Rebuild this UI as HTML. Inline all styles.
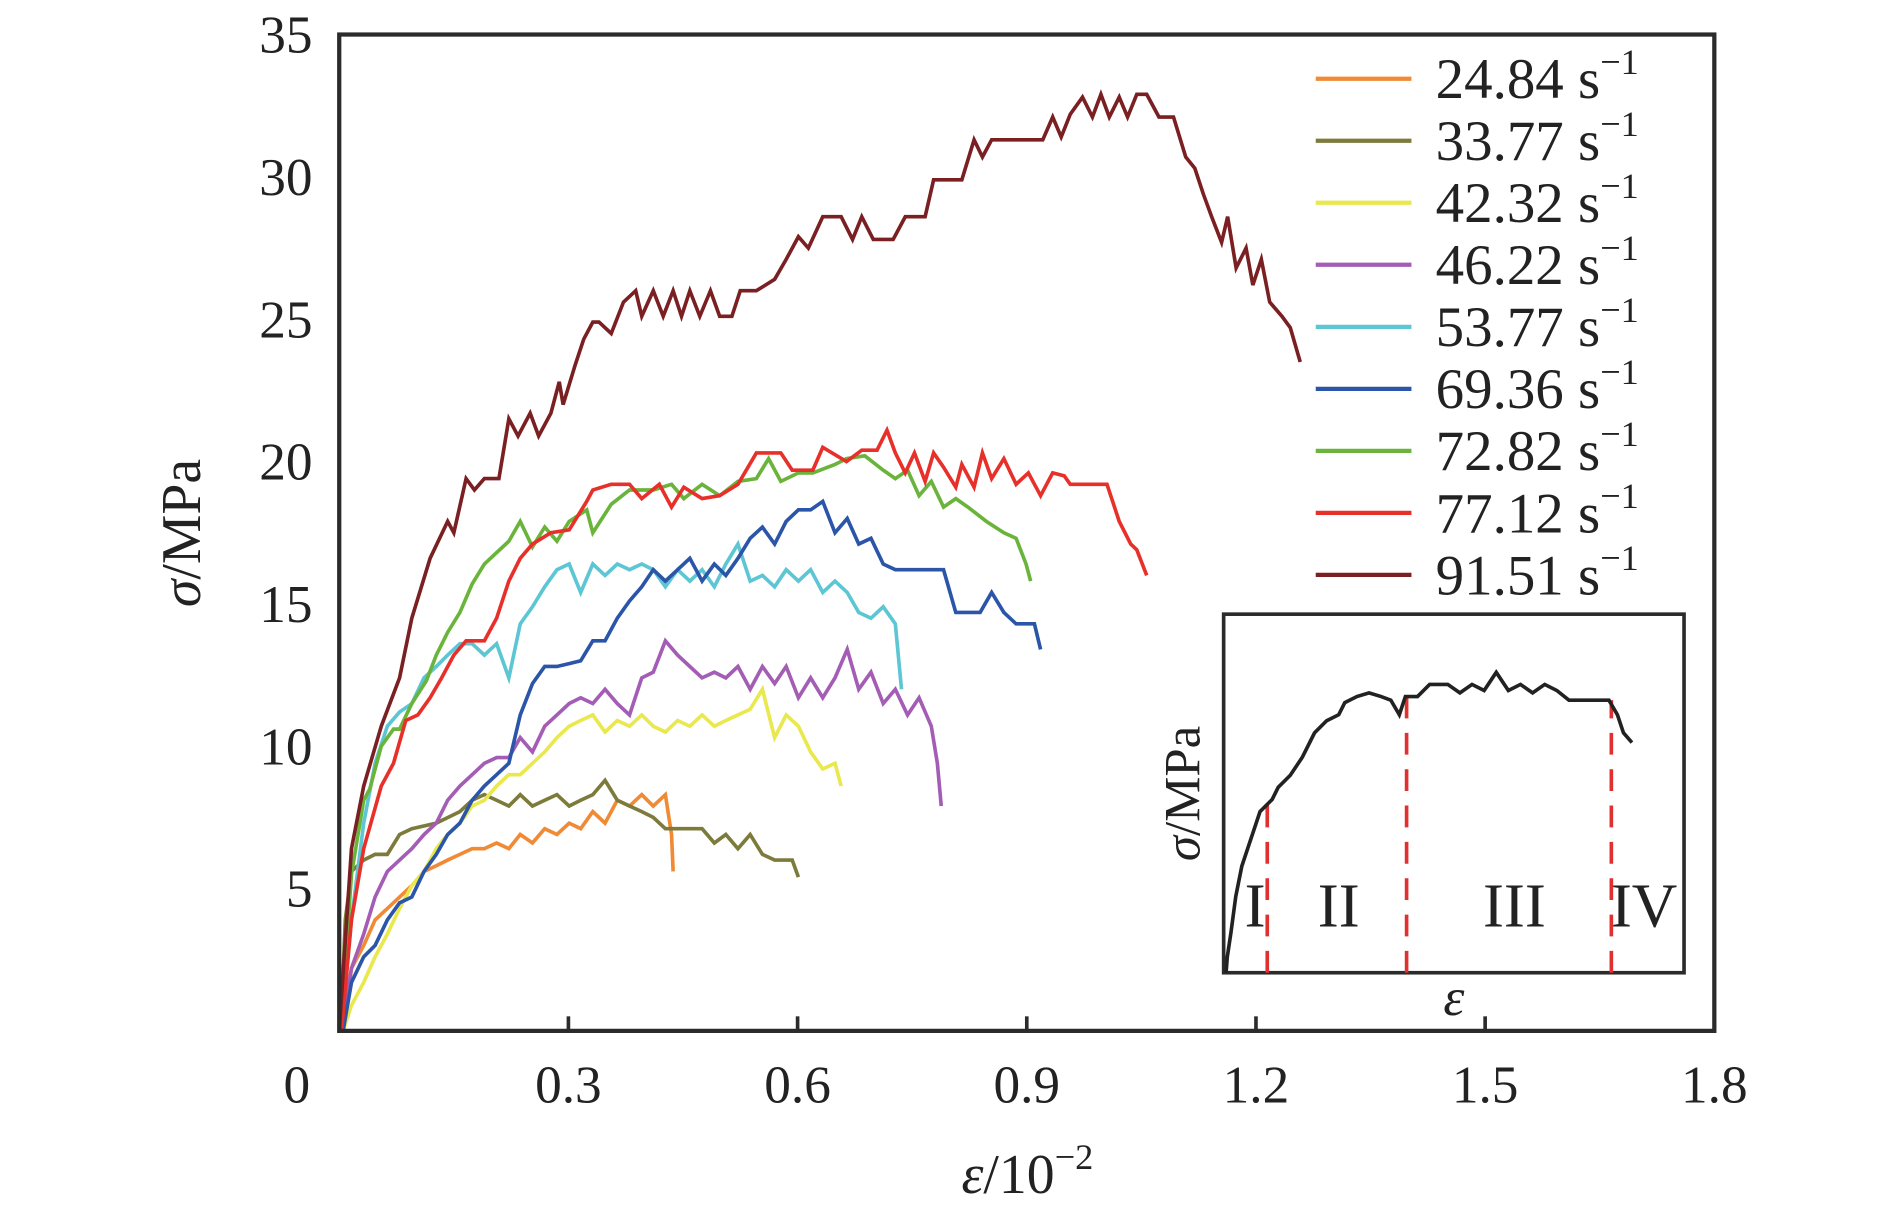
<!DOCTYPE html>
<html><head><meta charset="utf-8"><style>
html,body{margin:0;padding:0;background:#fff;}
svg, svg text{font-family:"Liberation Serif","Times New Roman",serif;}
svg{display:block;}
</style></head><body>
<svg id="chart" width="1890" height="1215" viewBox="0 0 1560 1003" preserveAspectRatio="none" font-family="Liberation Serif, serif" xmlns="http://www.w3.org/2000/svg">
<g id="series"></g>
<rect x="280" y="28.5" width="1135" height="822.5" fill="none" stroke="#2b2b2b" stroke-width="3.5"/>
<g id="axes"></g>
<text transform="translate(165,440) rotate(-90)" text-anchor="middle" font-size="46" fill="#222"><tspan font-style="italic">σ</tspan>/MPa</text>
<text x="848" y="985" text-anchor="middle" font-size="46" fill="#222"><tspan font-style="italic">ε</tspan>/10<tspan font-size="30" dy="-20">−2</tspan></text>
<g id="legend"></g>
<g id="inset">
<rect x="1010" y="507" width="380" height="296" fill="#fff" stroke="#2b2b2b" stroke-width="3"/>
<text transform="translate(990,655) rotate(-90)" text-anchor="middle" font-size="42" fill="#222"><tspan font-style="italic">σ</tspan>/MPa</text>
<text x="1200" y="838" text-anchor="middle" font-size="44" font-style="italic" fill="#222">ε</text>
<text x="1036" y="765" text-anchor="middle" font-size="52" fill="#222">I</text>
<text x="1105" y="765" text-anchor="middle" font-size="52" fill="#222">II</text>
<text x="1250" y="765" text-anchor="middle" font-size="52" fill="#222">III</text>
<text x="1357" y="765" text-anchor="middle" font-size="52" fill="#222">IV</text>
</g>
</svg>
<script>
const xTicks=[0,0.3,0.6,0.9,1.2,1.5,1.8];
const xTickLabels=["0","0.3","0.6","0.9","1.2","1.5","1.8"];
const yTicks=[5,10,15,20,25,30,35];
const yTickLabels=["5","10","15","20","25","30","35"];
const seriesNames=["24.84 s","33.77 s","42.32 s","46.22 s","53.77 s","69.36 s","72.82 s","77.12 s","91.51 s"];
const seriesColors=["#f08a34","#7d7b3c","#e9e84e","#a45db5","#5cc6d4","#2a55a8","#6ab43c","#e8302a","#7a1f22"];
const s24x=[.005,.016,.032,.047,.063,.079,.095,.111,.127,.142,.158,.174,.19,.206,.222,.237,.253,.269,.285,.301,.316,.332,.348,.364,.38,.396,.411,.427,.435,.437];
const s24y=[0,2.2,3.0,3.9,4.3,4.7,5.1,5.6,5.8,6.0,6.2,6.4,6.4,6.6,6.4,6.9,6.6,7.1,6.9,7.3,7.1,7.7,7.3,8.1,7.9,8.3,7.9,8.3,6.9,5.6];
const s33x=[.002,.008,.016,.032,.047,.063,.079,.095,.127,.158,.174,.19,.206,.222,.237,.253,.269,.285,.301,.316,.332,.348,.364,.38,.396,.411,.427,.475,.491,.506,.522,.538,.554,.57,.593,.601];
const s33y=[0,3.9,5.6,6.0,6.2,6.2,6.9,7.1,7.3,7.7,8.1,8.3,8.1,7.9,8.3,7.9,8.1,8.3,7.9,8.1,8.3,8.8,8.1,7.9,7.7,7.5,7.1,7.1,6.6,6.9,6.4,6.9,6.2,6.0,6.0,5.4];
const s42x=[.005,.016,.032,.047,.063,.079,.095,.111,.127,.142,.158,.174,.19,.206,.222,.237,.253,.269,.285,.301,.316,.332,.348,.364,.38,.396,.411,.427,.443,.459,.475,.491,.506,.522,.538,.554,.57,.585,.601,.617,.633,.649,.657];
const s42y=[0,.9,1.7,2.6,3.4,4.3,5.1,5.6,6.4,6.9,7.3,7.9,8.1,8.6,9.0,9.0,9.4,9.8,10.3,10.7,10.9,11.1,10.5,10.9,10.7,11.1,10.7,10.5,10.9,10.7,11.1,10.7,10.9,11.1,11.3,12.0,10.3,11.1,10.7,9.8,9.2,9.4,8.6];
const s46x=[.003,.016,.032,.047,.063,.079,.095,.111,.127,.142,.158,.174,.19,.206,.222,.237,.253,.269,.285,.301,.316,.332,.348,.364,.38,.396,.411,.427,.443,.459,.475,.491,.506,.522,.538,.554,.57,.585,.601,.617,.633,.649,.665,.68,.696,.712,.728,.744,.759,.775,.783,.788];
const s46y=[0,2.2,3.4,4.7,5.6,6.0,6.4,6.9,7.3,8.1,8.6,9.0,9.4,9.6,9.6,10.3,9.8,10.7,11.1,11.5,11.7,11.5,12.0,11.5,11.1,12.4,12.6,13.7,13.2,12.8,12.4,12.6,12.4,12.8,12.0,12.8,12.2,12.8,11.7,12.4,11.7,12.4,13.4,12.0,12.6,11.5,12.0,11.1,11.7,10.7,9.4,7.9];
const s53x=[.002,.016,.032,.047,.063,.079,.095,.111,.127,.142,.158,.174,.19,.206,.222,.237,.253,.269,.285,.301,.316,.332,.348,.364,.38,.396,.411,.427,.443,.459,.475,.491,.506,.522,.538,.554,.57,.585,.601,.617,.633,.649,.665,.68,.696,.712,.728,.736];
const s53y=[0,3.9,7.3,9.4,10.7,11.2,11.5,12.4,12.8,13.2,13.6,13.6,13.2,13.6,12.4,14.3,14.9,15.6,16.2,16.4,15.4,16.4,16.0,16.4,16.2,16.4,16.2,15.6,16.2,15.8,16.2,15.6,16.4,17.1,15.8,16.0,15.6,16.2,15.8,16.2,15.4,15.8,15.4,14.7,14.5,14.9,14.3,12.0];
const s69x=[.005,.016,.032,.047,.063,.079,.095,.111,.127,.142,.158,.174,.19,.206,.222,.237,.253,.269,.285,.301,.316,.332,.348,.364,.38,.396,.411,.427,.443,.459,.475,.491,.506,.522,.538,.554,.57,.585,.601,.617,.633,.649,.665,.68,.696,.712,.728,.744,.791,.807,.839,.854,.87,.886,.91,.918];
const s69y=[0,1.7,2.6,3.0,3.9,4.5,4.7,5.6,6.2,6.9,7.3,8.1,8.6,9.0,9.4,11.1,12.2,12.8,12.8,12.9,13.0,13.7,13.7,14.5,15.1,15.6,16.2,15.8,16.2,16.6,15.8,16.4,16.0,16.6,17.3,17.7,17.1,17.9,18.3,18.3,18.6,17.5,18.0,17.1,17.3,16.4,16.2,16.2,16.2,14.7,14.7,15.4,14.7,14.3,14.3,13.4];
const s72x=[.002,.016,.032,.040,.055,.071,.079,.095,.114,.127,.142,.158,.174,.19,.206,.222,.237,.253,.269,.285,.301,.324,.332,.356,.38,.411,.435,.451,.475,.498,.522,.546,.562,.578,.601,.62,.649,.664,.688,.712,.728,.744,.759,.775,.791,.807,.823,.847,.87,.886,.899,.905];
const s72y=[0,5.5,8.1,8.5,10.0,10.6,10.6,11.5,12.3,13.2,14.0,14.7,15.7,16.4,16.8,17.2,17.9,17.0,17.7,17.2,17.9,18.3,17.5,18.5,19.0,19.0,19.2,18.7,19.2,18.8,19.3,19.4,20.1,19.3,19.6,19.6,19.9,20.1,20.2,19.7,19.4,19.7,18.8,19.3,18.4,18.7,18.4,17.9,17.5,17.3,16.4,15.8];
const s77x=[.003,.016,.032,.055,.071,.087,.103,.119,.134,.150,.166,.19,.206,.222,.237,.253,.277,.301,.324,.332,.356,.38,.396,.419,.435,.451,.475,.498,.522,.546,.578,.593,.62,.633,.664,.684,.704,.717,.728,.741,.753,.767,.778,.791,.807,.815,.831,.842,.854,.87,.886,.902,.918,.934,.949,.957,1.005,1.021,1.036,1.044,1.057];
const s77y=[0,3.9,6.4,8.6,9.4,10.9,11.1,11.7,12.4,13.2,13.7,13.7,14.5,15.8,16.6,17.1,17.5,17.6,18.6,19.0,19.2,19.2,18.7,19.2,18.4,19.1,18.7,18.8,19.2,20.3,20.3,19.7,19.7,20.5,20.0,20.4,20.4,21.1,20.3,19.6,20.3,19.3,20.3,19.8,19.1,19.9,19.1,20.3,19.4,20.1,19.2,19.6,18.8,19.6,19.5,19.2,19.2,17.9,17.1,16.9,16.0];
const s91x=[0,.016,.032,.055,.079,.095,.119,.142,.150,.166,.177,.19,.209,.222,.234,.25,.261,.277,.288,.293,.309,.32,.332,.34,.356,.372,.388,.396,.411,.424,.437,.448,.459,.472,.486,.498,.514,.525,.546,.57,.585,.601,.614,.633,.657,.672,.684,.699,.725,.741,.767,.778,.815,.831,.842,.854,.921,.934,.945,.957,.973,.986,.997,1.008,1.021,1.032,1.044,1.057,1.073,1.092,1.108,1.12,1.131,1.142,1.155,1.163,1.174,1.187,1.196,1.207,1.218,1.234,1.245,1.258];
const s91y=[0,6.4,8.6,10.7,12.4,14.5,16.6,17.9,17.5,19.4,19.0,19.4,19.4,21.5,20.9,21.7,20.9,21.7,22.8,22.0,23.4,24.3,24.9,24.9,24.5,25.6,26.0,25.1,26.0,25.1,26.0,25.1,26.0,25.1,26.0,25.1,25.1,26.0,26.0,26.4,27.1,27.9,27.5,28.6,28.6,27.8,28.6,27.8,27.8,28.6,28.6,29.9,29.9,31.3,30.7,31.3,31.3,32.1,31.4,32.2,32.8,32.1,32.9,32.1,32.8,32.1,32.9,32.9,32.1,32.1,30.7,30.3,29.4,28.6,27.7,28.6,26.8,27.5,26.2,27.1,25.6,25.1,24.7,23.5];
const insetX=[2,3,6,10,15,20,25,30,35,40,45,55,65,75,85,95,100,110,120,130,138,145,150,160,170,185,195,205,215,225,235,245,255,265,275,285,300,318,325,330,337];
const insetY=[0,13,33,63,88,103,118,133,138,143,153,163,178,198,208,213,223,228,231,228,225,213,228,228,238,238,231,238,233,248,233,238,231,238,233,225,225,225,213,198,190];
const stageBounds=[36,151,320];

const NS="http://www.w3.org/2000/svg";
const X0=280,X1=1415,Y0=851,YT=28.5;
function xs(v){return X0+v/1.8*(X1-X0);}
function ys(v){return Y0-v/35*(Y0-YT);}
function mk(t,a,p){const e=document.createElementNS(NS,t);for(const k in a)e.setAttribute(k,a[k]);p.appendChild(e);return e;}
const axes=document.getElementById('axes');
xTicks.forEach((v,i)=>{
  if(i>0&&i<xTicks.length-1){const tk=mk('line',{x1:xs(v),x2:xs(v),y1:Y0,y2:Y0-12,stroke:'#2b2b2b','stroke-width':3},axes);
  
  }
  const t=mk('text',{x:i===0?245:xs(v),y:910,'text-anchor':'middle','font-size':44,fill:'#222'},axes);
  t.textContent=xTickLabels[i];
  
  
});
yTicks.forEach((v,i)=>{
  const t=mk('text',{x:258,y:ys(v)+15,'text-anchor':'end','font-size':44,fill:'#222'},axes);
  t.textContent=yTickLabels[i];
  
  
});
const allX=[s24x,s33x,s42x,s46x,s53x,s69x,s72x,s77x,s91x];
const allY=[s24y,s33y,s42y,s46y,s53y,s69y,s72y,s77y,s91y];
const sg=document.getElementById('series');
allX.forEach((xa,k)=>{
  const ya=allY[k];const n=Math.min(xa.length,ya.length);let d='';
  for(let i=0;i<n;i++)d+=(i?'L':'M')+xs(xa[i]).toFixed(1)+','+ys(ya[i]).toFixed(1);
  const p=mk('path',{d:d,fill:'none',stroke:seriesColors[k],'stroke-width':3,'stroke-linejoin':'miter'},sg);
  
  
});
const lg=document.getElementById('legend');
seriesNames.forEach((nm,k)=>{
  const y=65+k*51.2;
  const l=mk('line',{x1:1086,x2:1165,y1:y,y2:y,stroke:seriesColors[k],'stroke-width':3.5},lg);
  
  
  const t=mk('text',{x:1185,y:y+16,'font-size':47,fill:'#222'},lg);
  
  
  t.textContent=nm;
  const s=mk('tspan',{'font-size':30,dy:-20},t);s.textContent='−1';
});
const ins=document.getElementById('inset');
const IX=1010,IY=803;
function ins_y(b){let best=0,bd=1e9;for(let i=0;i<insetX.length;i++){const dd=Math.abs(insetX[i]-b);if(dd<bd){bd=dd;best=insetY[i];}}return best;}
stageBounds.forEach(b=>{
  const l=mk('line',{x1:IX+b,x2:IX+b,y1:IY,y2:IY-ins_y(b),stroke:'#e03030','stroke-width':3,'stroke-dasharray':'18,12'},ins);
  
  
});
let d='';
for(let i=0;i<Math.min(insetX.length,insetY.length);i++)d+=(i?'L':'M')+(IX+insetX[i])+','+(IY-insetY[i]);
const ip=mk('path',{d:d,fill:'none',stroke:'#222','stroke-width':3},ins);


</script>
</body></html>
